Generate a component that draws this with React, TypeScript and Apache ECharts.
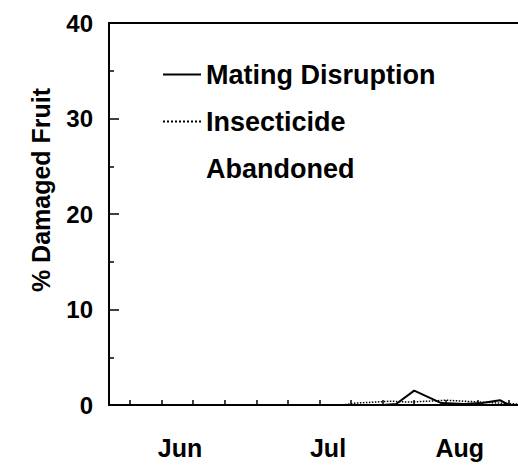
import React, { useEffect, useRef } from "react";
import * as echarts from "echarts";

// x values are days counted from the first weekly tick
const weekTicks = [0, 7, 14, 21, 28, 35, 42, 49, 56, 63, 70, 77, 84];
const monthLabels = ["Jun", "Jul", "Aug"];
const monthPositions = [11.1, 43.9, 73.1];

const matingDays = [0, 56, 59, 63, 69, 74, 78, 82, 84];
const matingValues = [0, 0, 0.1, 1.5, 0.2, 0.1, 0.2, 0.5, 0];

const insecticideDays = [47, 50, 54, 58, 62, 66, 70, 74, 78, 82, 86];
const insecticideValues = [0, 0.2, 0.3, 0.4, 0.3, 0.4, 0.5, 0.4, 0.3, 0.2, 0.1];

const abandonedDays: number[] = [];
const abandonedValues: number[] = [];

const seriesNames = ["Mating Disruption", "Insecticide", "Abandoned"];

const FONT = "'Liberation Sans', Arial, Helvetica, sans-serif";

export default function App() {
  const ref = useRef<HTMLDivElement>(null);
  useEffect(() => {
    if (!ref.current) return;
    const chart = echarts.init(ref.current, undefined, { renderer: "svg" });
    const zip = (xs: number[], ys: number[]) => xs.map((x, i) => [x, ys[i]]);
    chart.setOption({
      animation: false,
      backgroundColor: "#ffffff",
      textStyle: { fontFamily: FONT },
      grid: { left: 109, top: 23, right: 0, bottom: 62, containLabel: false },
      legend: {
        orient: "vertical",
        left: 157,
        top: 56,
        itemWidth: 38,
        itemHeight: 14,
        itemGap: 20,
        itemStyle: { opacity: 0 },
        textStyle: { fontSize: 27, lineHeight: 27, fontWeight: "bold", color: "#000", fontFamily: FONT },
        data: [
          { name: seriesNames[0], itemStyle: { opacity: 0 } },
          { name: seriesNames[1], itemStyle: { opacity: 0 } },
          { name: seriesNames[2], lineStyle: { opacity: 0 }, itemStyle: { opacity: 0 } },
        ],
      },
      xAxis: [
        {
          type: "value",
          min: -4.64,
          max: 86,
          position: "bottom",
          axisLine: { show: true, onZero: false, lineStyle: { color: "#000", width: 2 } },
          axisTick: {
            show: true,
            inside: true,
            length: 5,
            customValues: weekTicks,
            lineStyle: { color: "#000", width: 1.5 },
          },
          axisLabel: {
            show: true,
            customValues: monthPositions,
            margin: 30,
            fontSize: 25,
            fontWeight: "bold",
            color: "#000",
            fontFamily: FONT,
            formatter: (v: number) => {
              const i = monthPositions.findIndex((p) => Math.abs(p - v) < 0.01);
              return i >= 0 ? monthLabels[i] : "";
            },
          },
          splitLine: { show: false },
        },
        {
          type: "value",
          min: -4.64,
          max: 86,
          position: "top",
          axisLine: { show: true, onZero: false, lineStyle: { color: "#000", width: 2 } },
          axisTick: { show: false },
          axisLabel: { show: false },
          splitLine: { show: false },
        },
      ],
      yAxis: {
        type: "value",
        min: 0,
        max: 40,
        interval: 10,
        position: "left",
        axisLine: { show: true, onZero: false, lineStyle: { color: "#000", width: 2 } },
        axisTick: { show: true, inside: true, length: 10, lineStyle: { color: "#000", width: 1.5 } },
        minorTick: { show: true, splitNumber: 2, length: 5, lineStyle: { color: "#000", width: 1.5 } },
        axisLabel: {
          margin: 16,
          fontSize: 24,
          fontWeight: "bold",
          color: "#000",
          fontFamily: FONT,
        },
        splitLine: { show: false },
      },
      graphic: [
        {
          type: "text",
          x: 41,
          y: 190,
          rotation: Math.PI / 2,
          style: {
            text: "% Damaged Fruit",
            font: `bold 25px ${FONT}`,
            fill: "#000",
            align: "center",
            verticalAlign: "middle",
          },
        },
      ],
      series: [
        {
          name: seriesNames[0],
          type: "line",
          data: zip(matingDays, matingValues),
          showSymbol: false,
          symbol: "none",
          lineStyle: { color: "#000", width: 2, type: "solid" },
          itemStyle: { color: "#000" },
        },
        {
          name: seriesNames[1],
          type: "line",
          data: zip(insecticideDays, insecticideValues),
          showSymbol: false,
          symbol: "none",
          lineStyle: { color: "#000", width: 1.5, type: "dotted" },
          itemStyle: { color: "#000" },
        },
        {
          name: seriesNames[2],
          type: "line",
          data: zip(abandonedDays, abandonedValues),
          showSymbol: false,
          symbol: "none",
          lineStyle: { color: "#000", width: 1.5, opacity: 0 },
          itemStyle: { color: "#000", opacity: 0 },
        },
      ],
    });
    return () => chart.dispose();
  }, []);
  return (
    <div
      ref={ref}
      style={{ position: "fixed", left: 0, top: 0, width: 518, height: 467, background: "#fff" }}
    />
  );
}
